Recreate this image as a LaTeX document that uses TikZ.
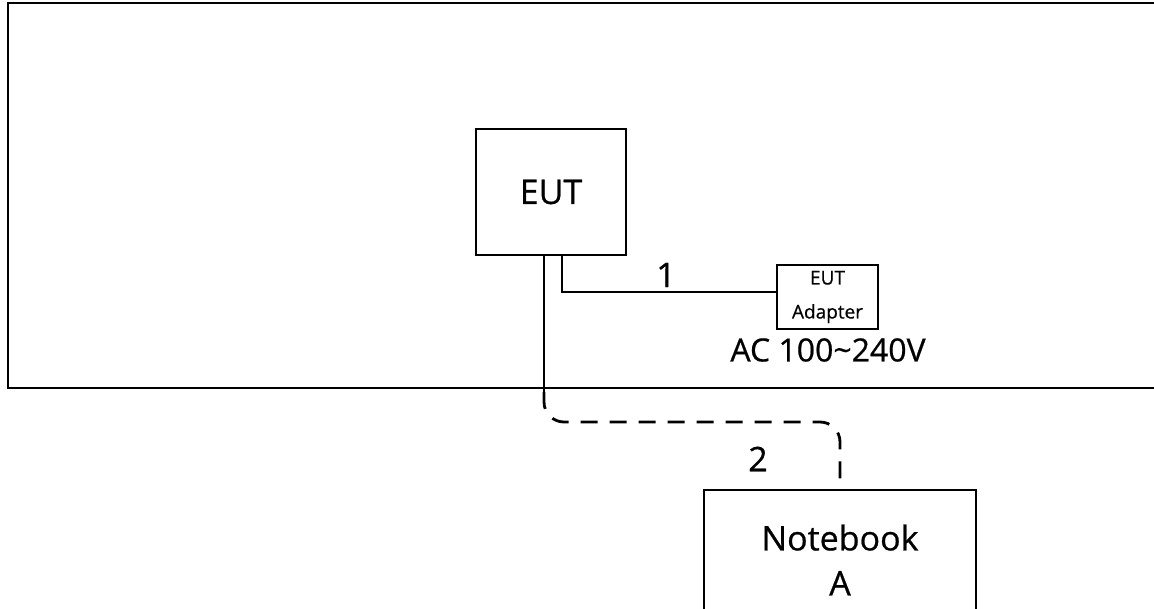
\documentclass[tikz,border=0pt]{standalone}
\usepackage{fontspec}
\setmainfont{Open Sans}[FakeBold=0.6]
\tikzset{
  unit/.style={draw, line width=1.8pt, minimum width=#1},
  link/.style={line width=1.8pt},
  cable/.style={line width=2.8pt, dash pattern=on 17pt off 12pt, rounded corners=20pt},
  tag/.style={font=\fontsize{34}{40}\selectfont}
}
\begin{document}
\begin{tikzpicture}[x=1pt, y=-1pt]
      \useasboundingbox (0,0) rectangle (1154,609);
      \draw[line width=2.4pt] (8,3) rectangle (1170,388);
      \node[unit=150pt, minimum height=126pt, tag] (eut) at (551, 192) {EUT};
      \node[unit=101pt, minimum height=64pt, align=center,
            font=\fontsize{19}{34}\selectfont] (adapter) at (827.5, 297) {EUT\\Adapter};
      \node[unit=272pt, minimum height=140pt, align=center,
            font=\fontsize{34}{45}\selectfont] (notebook) at (840, 560) {Notebook\\A};
      \node[tag] (one) at (666, 275) {1};
      \node[tag] (two) at (758, 459) {2};
      \node[font=\fontsize{32}{38}\selectfont] (mains) at (828, 350) {AC 100\textasciitilde240V};
      \coordinate (exit) at (544, 392);
      \coordinate (turn) at (840, 422);
      \draw[link] ([xshift=11pt]eut.south) |- ([yshift=5pt]adapter.west);
      \draw[link] ([xshift=-7pt]eut.south) -- (exit);
      \draw[cable] (exit) -- (exit |- turn) -- (turn) -- (notebook.north);
    \end{tikzpicture}
\end{document}
